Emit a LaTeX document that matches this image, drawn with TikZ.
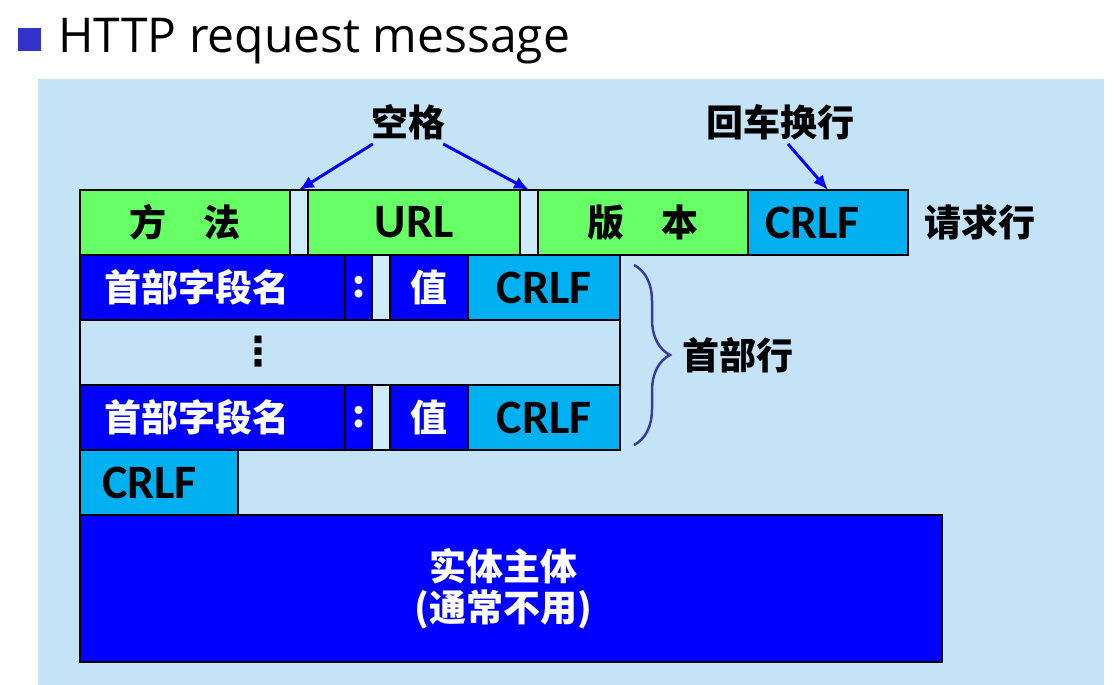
\documentclass[tikz,border=0pt]{standalone}
\usepackage{fontspec}
\setmainfont{Open Sans}
\newfontfamily\cjk{Noto Sans CJK SC}
\newfontfamily\latf{Carlito}
\newfontfamily\symf{DejaVu Sans}
\usetikzlibrary{positioning,arrows.meta,calc,decorations.pathreplacing}
\definecolor{bgblue}{HTML}{C5E3F7}
\definecolor{gapblue}{HTML}{CDEBFA}
\definecolor{fieldgreen}{HTML}{66FF66}
\definecolor{crlfcyan}{HTML}{00B0F0}
\definecolor{hdrblue}{HTML}{0000FF}
\definecolor{bracecol}{HTML}{3B3B9E}
\definecolor{bulletblue}{HTML}{3333CC}
\begin{document}
\begin{tikzpicture}[x=1pt,y=-1pt,
  field/.style={draw=black,line width=1.6pt,inner sep=0pt,outer sep=0pt,minimum height=65pt,font=\cjk\bfseries\fontsize{37}{41}\selectfont},
  reqf/.style={field,fill=fieldgreen},
  gapf/.style={field,fill=gapblue,minimum width=18pt},
  crlff/.style={field,fill=crlfcyan,font=\latf\bfseries\fontsize{48}{48}\selectfont},
  hdrf/.style={field,fill=hdrblue,text=white},
  lbl/.style={inner sep=2pt,font=\cjk\bfseries\fontsize{37}{41}\selectfont},
  ar/.style={-{Latex[length=15pt,width=13pt]},line width=3pt,hdrblue}]
\useasboundingbox (0,0) rectangle (1114,685);
\fill[bgblue] (38,79) rectangle (1104,685);
% title
\node[fill=bulletblue,minimum size=23pt,inner sep=0pt,anchor=north west] (bullet) at (18,28) {};
\node[font=\fontsize{48}{48}\selectfont,inner sep=0pt,anchor=base west] (title) at (58,53) {HTTP request message};
% request line
\node[reqf,minimum width=210pt,anchor=north west] (method) at (80,190) {方\hspace{1em}法};
\node[gapf,right=0pt of method] (gap1) {};
\node[reqf,minimum width=212pt,right=0pt of gap1,font=\latf\bfseries\fontsize{48}{48}\selectfont] (url) {URL};
\node[gapf,right=0pt of url] (gap2) {};
\node[reqf,minimum width=210pt,right=0pt of gap2] (version) {版\hspace{1em}本};
\node[crlff,inner xsep=17pt,text width=126pt,align=left,right=0pt of version] (crlf0) {CRLF};
\node[lbl,right=14pt of crlf0] (reqline) {请求行};
% notes and arrows
\node[lbl] (space) at (408,122) {空格};
\node[lbl] (crlfnote) at (780,122) {回车换行};
\draw[ar] ($(space.south west)+(4,2)$) -- (gap1.north);
\draw[ar] ($(space.south east)+(-4,2)$) -- (gap2.north);
\draw[ar] ($(crlfnote.south)+(8,2)$) -- (crlf0.north);
% header lines
\node[hdrf,inner xsep=24pt,text width=217pt,align=left,below right=0pt and 0pt of method.south west] (name1) {首部字段名};
\node[hdrf,minimum width=27pt,right=0pt of name1] (colon1) {:};
\node[gapf,right=0pt of colon1] (gap3) {};
\node[hdrf,minimum width=78pt,right=0pt of gap3] (value1) {值};
\node[crlff,minimum width=152pt,right=0pt of value1] (crlf1) {CRLF};
\node[field,fill=bgblue,minimum width=540pt,below right=0pt and 0pt of name1.south west] (more) {};
\node[font=\symf\bfseries\fontsize{40}{40}\selectfont] (dots) at (258,352) {⋮};
\node[hdrf,inner xsep=24pt,text width=217pt,align=left,below right=0pt and 0pt of more.south west] (name2) {首部字段名};
\node[hdrf,minimum width=27pt,right=0pt of name2] (colon2) {:};
\node[gapf,right=0pt of colon2] (gap4) {};
\node[hdrf,minimum width=78pt,right=0pt of gap4] (value2) {值};
\node[crlff,minimum width=152pt,right=0pt of value2] (crlf2) {CRLF};
\draw[decorate,decoration={brace,amplitude=36pt},line width=2.5pt,bracecol]
  ($(crlf1.north east)+(14,10)$) -- ($(crlf2.south east)+(14,-5)$) coordinate[midway] (bracemid);
\node[lbl,anchor=west] (hdrlines) at ($(bracemid)+(46,0)$) {首部行};
% blank line and body
\node[crlff,inner xsep=22pt,text width=114pt,align=left,below right=0pt and 0pt of name2.south west] (crlf3) {CRLF};
\node[hdrf,minimum width=862pt,minimum height=147pt,align=center,below right=0pt and 0pt of crlf3.south west] (body) {\hspace*{-16pt}实体主体\\\hspace*{-16pt}(通常不用)};
\end{tikzpicture}
\end{document}
